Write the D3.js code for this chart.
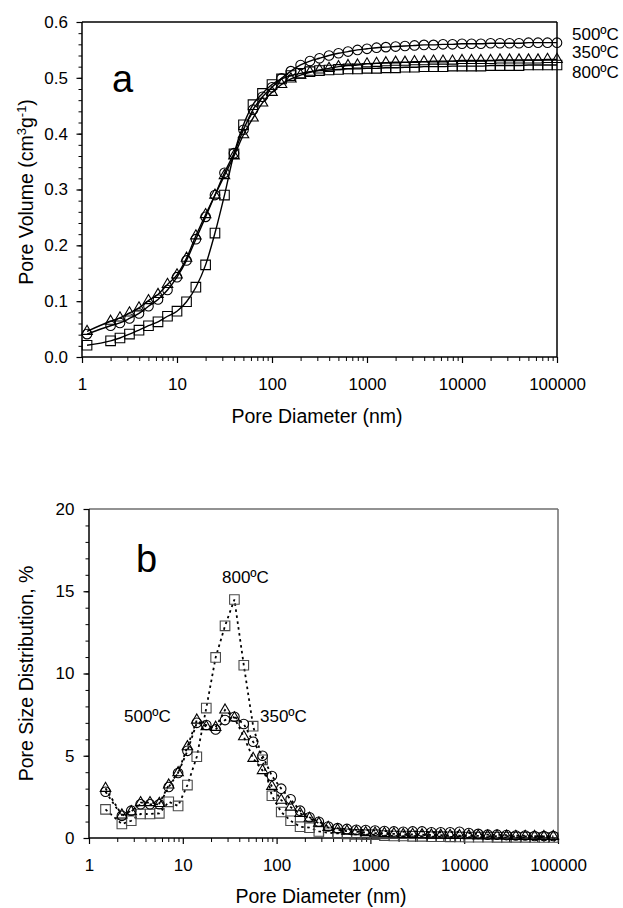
<!DOCTYPE html>
<html><head><meta charset="utf-8">
<script src="https://cdn.jsdelivr.net/npm/d3@7"></script>
<style>
body{margin:0;background:#fff}
text{font-family:"Liberation Sans",Arial,Helvetica,sans-serif;fill:#000}
</style>
</head><body>
<svg id="chart" width="623" height="908"></svg>
<script>
// ---------- Data ----------
const seriesNames = ["350ºC", "500ºC", "800ºC"];

// Panel a: cumulative pore volume (cm3/g) vs pore diameter (nm)
const diametersA = [1.13, 2.0, 2.51, 3.16, 3.98, 5.01, 6.31, 7.94,
  10, 12.6, 15.8, 20, 25.1, 31.6, 39.8, 50.1, 63.1, 79.4,
  100, 126, 158, 200, 251, 316, 398, 501, 631, 794,
  1000, 1260, 1580, 2000, 2510, 3160, 3980, 5010, 6310, 7940,
  10000, 12600, 15800, 20000, 25100, 31600, 39800, 50100, 63100, 79400, 100000];
const volume350 = [0.046, 0.064, 0.070, 0.079, 0.088, 0.101, 0.112, 0.130,
  0.147, 0.177, 0.217, 0.255, 0.290, 0.325, 0.360, 0.398, 0.428, 0.455,
  0.474, 0.488, 0.498, 0.505, 0.510, 0.514, 0.517, 0.520, 0.522, 0.523,
  0.525, 0.526, 0.527, 0.528, 0.528, 0.529, 0.529, 0.530, 0.530, 0.530,
  0.531, 0.531, 0.531, 0.531, 0.532, 0.532, 0.532, 0.532, 0.532, 0.533, 0.533];
const volume500 = [0.041, 0.056, 0.061, 0.069, 0.078, 0.091, 0.103, 0.120,
  0.143, 0.173, 0.211, 0.251, 0.290, 0.330, 0.365, 0.407, 0.443, 0.466,
  0.483, 0.499, 0.512, 0.523, 0.530, 0.535, 0.540, 0.544, 0.547, 0.550,
  0.552, 0.554, 0.555, 0.556, 0.557, 0.558, 0.559, 0.559, 0.560, 0.560,
  0.561, 0.561, 0.561, 0.562, 0.562, 0.562, 0.562, 0.563, 0.563, 0.563, 0.563];
const volume800 = [0.021, 0.029, 0.034, 0.041, 0.048, 0.056, 0.063, 0.073,
  0.082, 0.099, 0.125, 0.165, 0.222, 0.290, 0.364, 0.416, 0.452, 0.472,
  0.488, 0.498, 0.504, 0.508, 0.511, 0.513, 0.514, 0.515, 0.516, 0.516,
  0.517, 0.517, 0.518, 0.518, 0.519, 0.519, 0.520, 0.520, 0.520, 0.521,
  0.521, 0.521, 0.521, 0.522, 0.522, 0.522, 0.522, 0.523, 0.523, 0.523, 0.523];

// Panel b: pore size distribution (%) vs pore diameter (nm)
const diametersB = [1.5, 2.24, 2.82, 3.55, 4.47, 5.62, 7.08, 8.91,
  11.2, 14.1, 17.8, 22.4, 28.2, 35.5, 44.7, 56.2, 70.8, 89.1,
  112, 141, 178, 224, 282, 355, 447, 562, 708, 891,
  1120, 1410, 1780, 2240, 2820, 3550, 4470, 5620, 7080, 8910,
  11200, 14100, 17800, 22400, 28200, 35500, 44700, 56200, 70800, 89100];
const psd350 = [3.02, 1.40, 1.60, 2.15, 2.15, 2.10, 3.22, 3.97,
  5.55, 7.17, 6.77, 6.73, 7.78, 7.30, 6.16, 4.84, 4.10, 3.14,
  2.30, 1.88, 1.50, 1.20, 0.90, 0.65, 0.50, 0.42, 0.38, 0.33,
  0.30, 0.28, 0.25, 0.22, 0.22, 0.20, 0.18, 0.17, 0.16, 0.15,
  0.14, 0.13, 0.12, 0.12, 0.11, 0.10, 0.10, 0.10, 0.09, 0.09];
const psd500 = [2.81, 1.35, 1.66, 2.05, 2.05, 2.05, 3.10, 3.95,
  5.30, 7.00, 6.87, 6.60, 7.17, 7.37, 6.93, 5.85, 5.00, 3.77,
  3.00, 2.35, 1.66, 1.26, 0.99, 0.70, 0.60, 0.55, 0.50, 0.48,
  0.45, 0.42, 0.40, 0.38, 0.40, 0.40, 0.35, 0.35, 0.35, 0.38,
  0.30, 0.25, 0.20, 0.20, 0.18, 0.15, 0.15, 0.12, 0.12, 0.12];
const psd800 = [1.74, 0.85, 1.05, 1.46, 1.46, 1.50, 2.20, 1.95,
  3.22, 4.94, 7.90, 10.98, 12.90, 14.50, 10.50, 6.80, 4.75, 2.57,
  1.58, 1.05, 0.69, 0.63, 0.40, 0.32, 0.28, 0.25, 0.22, 0.20,
  0.20, 0.15, 0.12, 0.12, 0.10, 0.10, 0.08, 0.08, 0.07, 0.06,
  0.05, 0.05, 0.05, 0.04, 0.04, 0.04, 0.04, 0.03, 0.03, 0.03];

const xTickValues = [1, 10, 100, 1000, 10000, 100000];
const yTicksA = [0, 0.1, 0.2, 0.3, 0.4, 0.5, 0.6];
const yTicksB = [0, 5, 10, 15, 20];

// ---------- Drawing ----------
const svg = d3.select("#chart");
const FONT = 17;
const TITLE = 19.5;

function minorLog(lo, hi) {
  const out = [];
  for (let p = lo; p < hi; p++) for (let m = 2; m <= 9; m++) out.push(m * Math.pow(10, p));
  return out;
}

function panel(cfg) {
  const g = svg.append("g");
  const {x, y} = cfg;
  const [x0, x1] = x.range();
  const [yb, yt] = y.range();

  g.append("g").attr("transform", `translate(0,${yb})`)
    .call(d3.axisBottom(x).tickValues(minorLog(0, 5)).tickSize(4).tickFormat(""))
    .call(s => s.select(".domain").remove())
    .call(s => s.selectAll("line").attr("stroke", "#000").attr("stroke-width", 1));
  g.append("g").attr("transform", `translate(0,${yb})`)
    .call(d3.axisBottom(x).tickValues(xTickValues).tickSize(6).tickPadding(15)
      .tickFormat(d3.format("d")))
    .call(s => s.select(".domain").remove())
    .call(s => s.selectAll("line").attr("stroke", "#000").attr("stroke-width", 1.2))
    .call(s => s.selectAll("text").attr("font-size", FONT).attr("fill", "#000")
      .style("font-family", '"Liberation Sans",Arial,sans-serif'));
  g.append("g").attr("transform", `translate(${x0},0)`)
    .call(d3.axisLeft(y).tickValues(cfg.yMinor).tickSize(3.5).tickFormat(""))
    .call(s => s.select(".domain").remove())
    .call(s => s.selectAll("line").attr("stroke", "#000").attr("stroke-width", 1));
  g.append("g").attr("transform", `translate(${x0},0)`)
    .call(d3.axisLeft(y).tickValues(cfg.yTicks).tickSize(5.5).tickPadding(cfg.yPad)
      .tickFormat(cfg.yFormat))
    .call(s => s.select(".domain").remove())
    .call(s => s.selectAll("line").attr("stroke", "#000").attr("stroke-width", 1.2))
    .call(s => s.selectAll("text").attr("font-size", FONT).attr("fill", "#000")
      .style("font-family", '"Liberation Sans",Arial,sans-serif'));

  g.append("line").attr("x1", x0).attr("x2", x1).attr("y1", yt).attr("y2", yt)
    .attr("stroke", cfg.frameColor).attr("stroke-width", 1.5);
  g.append("line").attr("x1", x1).attr("x2", x1).attr("y1", yt).attr("y2", yb)
    .attr("stroke", cfg.frameColor).attr("stroke-width", 1.5);
  g.append("line").attr("x1", x0).attr("x2", x1).attr("y1", yb).attr("y2", yb)
    .attr("stroke", "#000").attr("stroke-width", 1.5);
  g.append("line").attr("x1", x0).attr("x2", x0).attr("y1", yt).attr("y2", yb)
    .attr("stroke", "#000").attr("stroke-width", 1.5);
  return g;
}

function drawSeries(g, x, y, xs, vals, shape, lineStyle, color) {
  const pts = xs.map((d, i) => [x(d), y(vals[i])]);
  const line = d3.line().curve(lineStyle.curve);
  g.append("path").attr("d", line(pts)).attr("fill", "none")
    .attr("stroke", "#000").attr("stroke-width", lineStyle.width)
    .attr("stroke-dasharray", lineStyle.dash || null);
  const sym = d3.symbol().type(shape === "circle" ? d3.symbolCircle :
      shape === "square" ? d3.symbolSquare : d3.symbolTriangle)
    .size(shape === "circle" ? 72 : shape === "square" ? 92 : 48);
  g.append("g").selectAll("path").data(pts).join("path")
    .attr("transform", d => `translate(${d[0]},${d[1]})`)
    .attr("d", sym).attr("fill", "none").attr("stroke", color).attr("stroke-width", 1.1);
}

// ----- Panel a -----
const xA = d3.scaleLog().domain([1, 1e5]).range([82, 557]);
const yA = d3.scaleLinear().domain([0, 0.6]).range([357, 22]);
const gA = panel({x: xA, y: yA, yTicks: yTicksA,
  yMinor: d3.range(0, 0.6001, 0.02), yPad: 8.5, yFormat: d3.format(".1f"), frameColor: "#000"});
const solid = {curve: d3.curveMonotoneX, width: 1.4};
drawSeries(gA, xA, yA, diametersA, volume800, "square", solid, "#000");
drawSeries(gA, xA, yA, diametersA, volume350, "triangle", solid, "#000");
drawSeries(gA, xA, yA, diametersA, volume500, "circle", solid, "#000");

gA.append("text").attr("x", 112).attr("y", 91.5).attr("font-size", 38).text("a");
gA.append("text").attr("x", 572).attr("y", 40).attr("font-size", 17).text(seriesNames[1]);
gA.append("text").attr("x", 572).attr("y", 58.3).attr("font-size", 17).text(seriesNames[0]);
gA.append("text").attr("x", 572).attr("y", 78.3).attr("font-size", 17).text(seriesNames[2]);

gA.append("text").attr("x", 317).attr("y", 423).attr("text-anchor", "middle")
  .attr("font-size", TITLE).text("Pore Diameter (nm)");
const ytA = gA.append("text").attr("transform", "translate(33,192) rotate(-90)")
  .attr("text-anchor", "middle").attr("font-size", TITLE);
ytA.append("tspan").text("Pore Volume (cm");
ytA.append("tspan").attr("font-size", 13).attr("dy", -7.5).text("3");
ytA.append("tspan").attr("dy", 7.5).text("g");
ytA.append("tspan").attr("font-size", 13).attr("dy", -7.5).text("-1");
ytA.append("tspan").attr("dy", 7.5).text(")");

// ----- Panel b -----
const xB = d3.scaleLog().domain([1, 1e5]).range([89, 558]);
const yB = d3.scaleLinear().domain([0, 20]).range([838, 509]);
const gB = panel({x: xB, y: yB, yTicks: yTicksB,
  yMinor: d3.range(0, 20.001, 1), yPad: 9, yFormat: d3.format("d"), frameColor: "#6e6e6e"});
const dotted = {curve: d3.curveLinear, width: 1.8, dash: "2.5,3.5"};
drawSeries(gB, xB, yB, diametersB, psd800, "square", dotted, "#4a4a4a");
drawSeries(gB, xB, yB, diametersB, psd350, "triangle", dotted, "#000");
drawSeries(gB, xB, yB, diametersB, psd500, "circle", dotted, "#000");

gB.append("text").attr("x", 136).attr("y", 571.5).attr("font-size", 38).text("b");
gB.append("text").attr("x", 222).attr("y", 582.5).attr("font-size", 17).text(seriesNames[2]);
gB.append("text").attr("x", 124).attr("y", 721.5).attr("font-size", 17).text(seriesNames[1]);
gB.append("text").attr("x", 260).attr("y", 721.5).attr("font-size", 17).text(seriesNames[0]);

gB.append("text").attr("x", 321).attr("y", 903).attr("text-anchor", "middle")
  .attr("font-size", TITLE).text("Pore Diameter (nm)");
gB.append("text").attr("transform", "translate(33,673.5) rotate(-90)")
  .attr("text-anchor", "middle").attr("font-size", TITLE).text("Pore Size Distribution, %");
</script>
</body></html>
